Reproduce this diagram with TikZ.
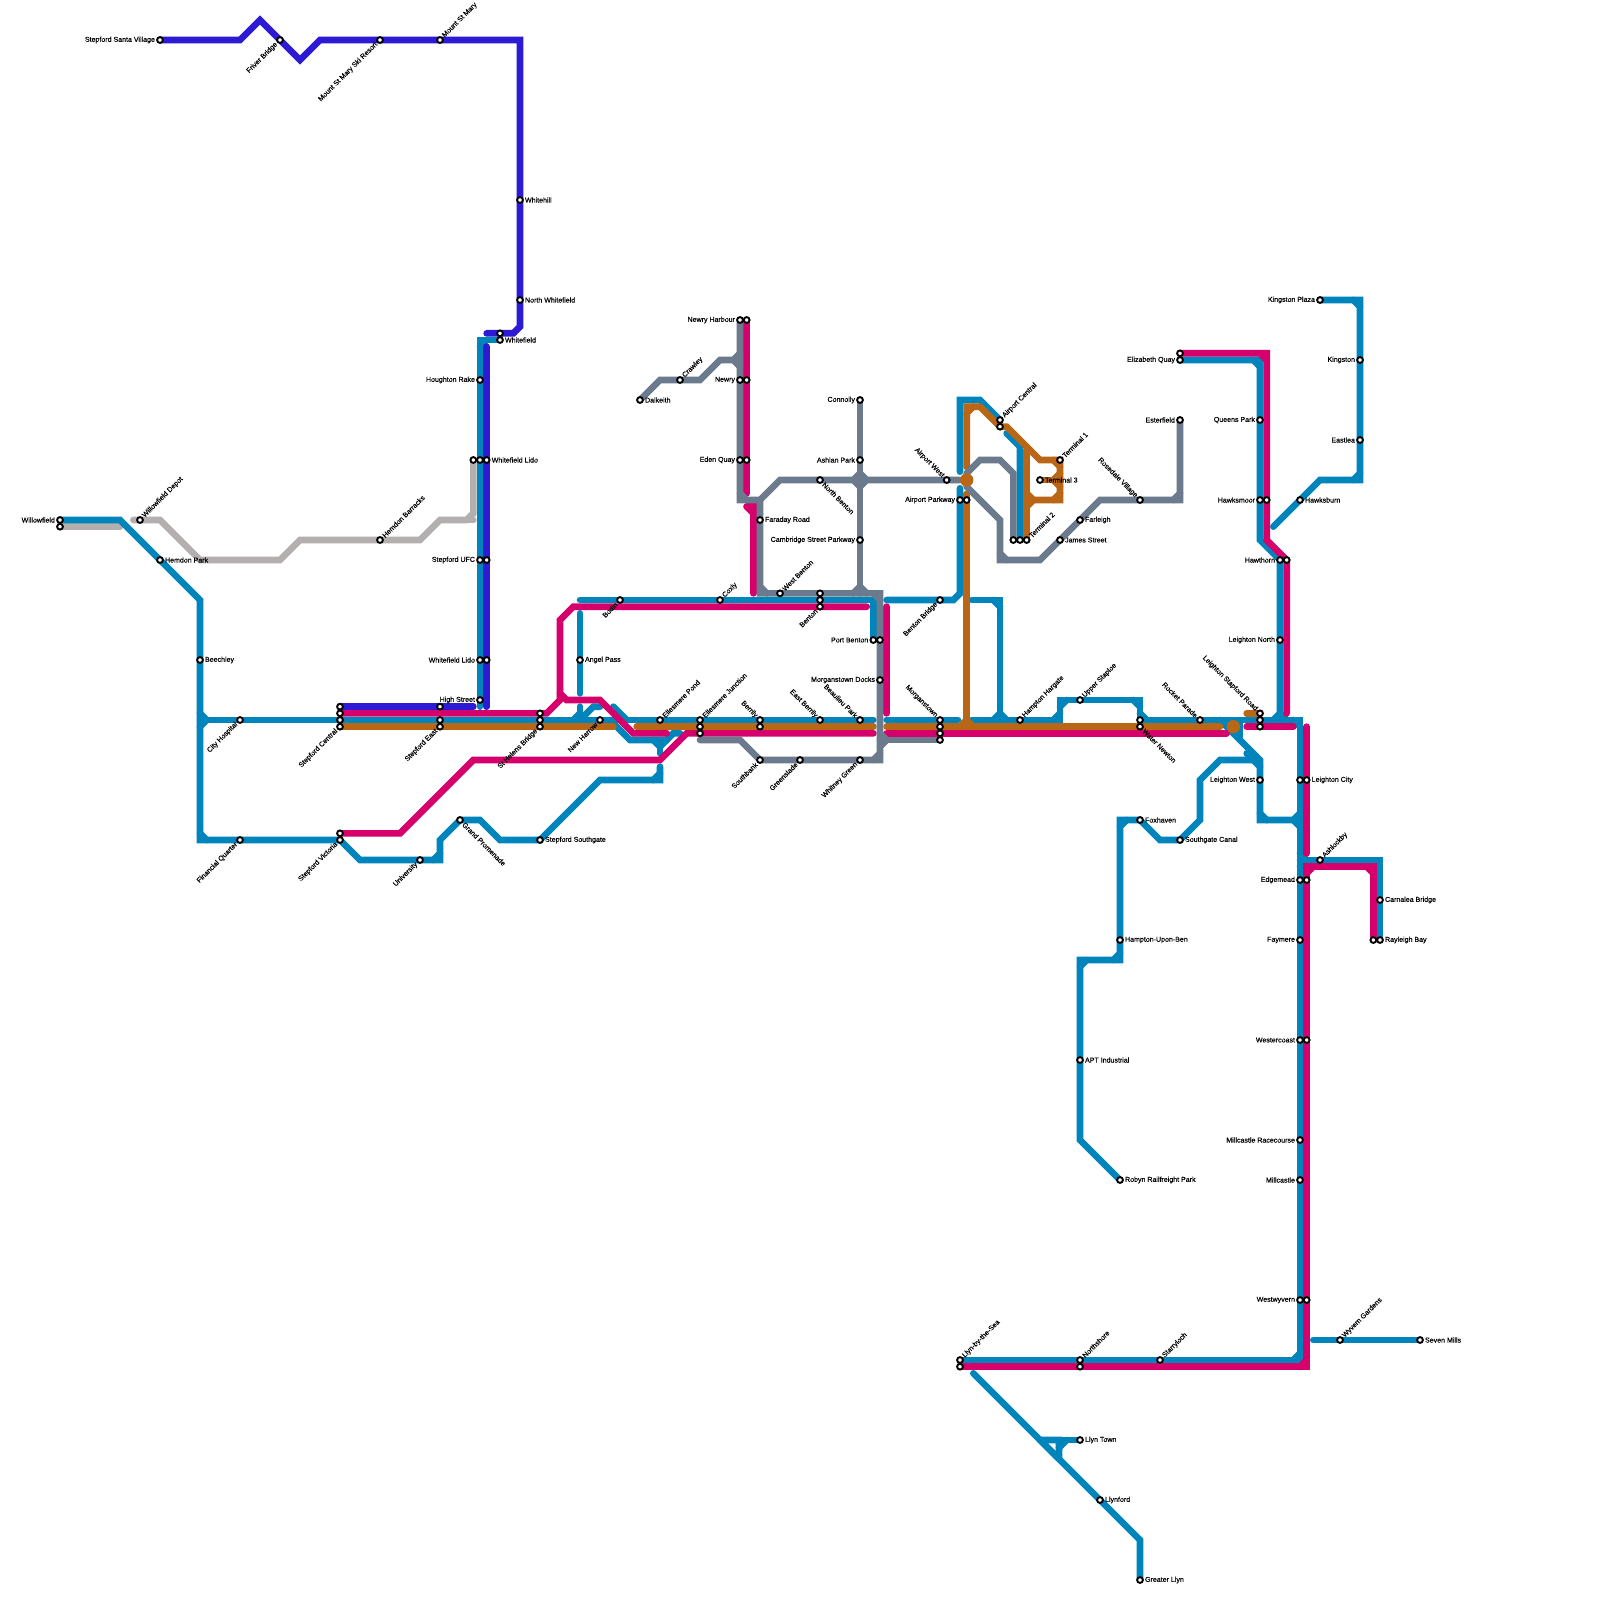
\documentclass[tikz,border=0pt]{standalone}
\usepackage{fontspec}
\setmainfont{Liberation Sans}
\newfontfamily\mapfont[FakeBold=0.25]{Liberation Sans}
\usetikzlibrary{backgrounds}
\definecolor{mapblue}{RGB}{0,132,188}
\definecolor{mapmagenta}{RGB}{214,0,108}
\definecolor{mapbrown}{RGB}{185,102,22}
\definecolor{mappurple}{RGB}{45,26,213}
\definecolor{mapgray}{RGB}{108,122,142}
\definecolor{mapsilver}{RGB}{179,175,175}
\begin{document}
\begin{tikzpicture}[x=1pt, y=-1pt,
  stn/.style={circle, draw=black, fill=white, line width=1.9pt, minimum size=5.8pt, inner sep=0pt},
  lbl/.style={font=\mapfont\fontsize{7.05}{8}\selectfont, inner sep=1pt, text=black},
  lE/.style={label={[lbl, anchor=west]0:#1}},
  lW/.style={label={[lbl, anchor=east]180:#1}},
  lNE/.style={label={[lbl, rotate=45, anchor=west]45:#1}},
  lSW/.style={label={[lbl, rotate=45, anchor=east]225:#1}},
  lNW/.style={label={[lbl, rotate=-45, anchor=east]135:#1}},
  lSE/.style={label={[lbl, rotate=-45, anchor=west]315:#1}},
  route/.style={line width=6.67pt, line cap=round, line join=miter, miter limit=2},
  blueln/.style={route, mapblue},
  magln/.style={route, mapmagenta},
  brownln/.style={route, mapbrown},
  purpln/.style={route, mappurple},
  grayln/.style={route, mapgray},
  silvln/.style={route, mapsilver},
  hub/.style={circle, fill=mapbrown, minimum size=13.4pt, inner sep=0pt}
]
\useasboundingbox (0,0) rectangle (1600,1600);
% west side
\node[stn, lW=Stepford Santa Village] (santa) at (160,40) {};
\node[stn, lSW=Friver Bridge] (friver) at (280,40) {};
\node[stn, lSW=Mount St Mary Ski Resort] (ski) at (380,40) {};
\node[stn, lNE=Mount St Mary] (mary) at (440,40) {};
\node[stn, lE=Whitehill] (whitehill) at (520,200) {};
\node[stn, lE=North Whitefield] (nwhite) at (520,300) {};
\node[stn] (white1) at (500,333.33) {};
\node[stn, lE=Whitefield] (white2) at (500,340) {};
\node[stn, lW=Houghton Rake] (houghton) at (480,380) {};
\node[stn] (lidoa) at (473.33,460) {};
\node[stn] (lidob) at (480,460) {};
\node[stn, lE=Whitefield Lido] (lidoc) at (486.67,460) {};
\node[stn, lW=Stepford UFC] (ufca) at (480,560) {};
\node[stn] (ufcb) at (486.67,560) {};
\node[stn, lW=Whitefield Lido] (lidod) at (480,660) {};
\node[stn] (lidoe) at (486.67,660) {};
\node[stn, lW=High Street] (high) at (480,700) {};
\node[stn, lW=Willowfield] (willa) at (60,520) {};
\node[stn] (willb) at (60,526.67) {};
\node[stn, lNE=Willowfield Depot] (depot) at (140,520) {};
\node[stn, lE=Hemdon Park] (hemdon) at (160,560) {};
\node[stn, lNE=Hemdon Barracks] (barracks) at (380,540) {};
\node[stn, lE=Beechley] (beechley) at (200,660) {};
\node[stn, lSW=City Hospital] (hospital) at (240,720) {};
\node[stn, lSW=Financial Quarter] (finance) at (240,840) {};
\node[stn] (centa) at (340,706.67) {};
\node[stn] (centb) at (340,713.33) {};
\node[stn] (centc) at (340,720) {};
\node[stn, lSW=Stepford Central] (centd) at (340,726.67) {};
\node[stn] (easta) at (440,706.67) {};
\node[stn] (eastb) at (440,720) {};
\node[stn, lSW=Stepford East] (eastc) at (440,726.67) {};
\node[stn] (helena) at (540,713.33) {};
\node[stn] (helenb) at (540,720) {};
\node[stn, lSW=St Helens Bridge] (helenc) at (540,726.67) {};
\node[stn] (victa) at (340,833.33) {};
\node[stn, lSW=Stepford Victoria] (victb) at (340,840) {};
\node[stn, lSW=University] (univ) at (420,860) {};
\node[stn, lSE=Grand Promenade] (grand) at (460,820) {};
\node[stn, lE=Stepford Southgate] (sgate) at (540,840) {};
\node[stn, lSW=New Harrow] (harrow) at (600,720) {};
\node[stn, lE=Angel Pass] (angel) at (580,660) {};
\node[stn, lSW=Bodin] (bodin) at (620,600) {};
\node[stn, lNE=Coxly] (coxly) at (720,600) {};
\node[stn, lNE=Ellesmere Pond] (pond) at (660,720) {};
\node[stn, lNE=Ellesmere Junction] (junca) at (700,720) {};
\node[stn] (juncb) at (700,726.67) {};
\node[stn] (juncc) at (700,733.33) {};
% centre
\node[stn, lNW=Berrily] (berra) at (760,720) {};
\node[stn] (berrb) at (760,726.67) {};
\node[stn, lNW=East Berrily] (eberr) at (820,720) {};
\node[stn, lNW=Beaulieu Park] (beau) at (860,720) {};
\node[stn, lSW=Southbank] (south) at (760,760) {};
\node[stn, lSW=Greenslade] (green) at (800,760) {};
\node[stn, lSW=Whitney Green] (whitney) at (860,760) {};
\node[stn, lNW=Morganstown] (morga) at (940,720) {};
\node[stn] (morgb) at (940,726.67) {};
\node[stn] (morgc) at (940,733.33) {};
\node[stn] (morgd) at (940,740) {};
\node[stn, lW=Newry Harbour] (nharba) at (740,320) {};
\node[stn] (nharbb) at (746.67,320) {};
\node[stn, lW=Newry] (newrya) at (740,380) {};
\node[stn] (newryb) at (746.67,380) {};
\node[stn, lW=Eden Quay] (edena) at (740,460) {};
\node[stn] (edenb) at (746.67,460) {};
\node[stn, lNE=Crawley] (crawley) at (680,380) {};
\node[stn, lE=Dalkeith] (dalkeith) at (640,400) {};
\node[stn, lE=Faraday Road] (faraday) at (760,520) {};
\node[stn, lNE=West Benton] (wbenton) at (780,593.33) {};
\node[stn] (bentona) at (820,593.33) {};
\node[stn] (bentonb) at (820,600) {};
\node[stn, lSW=Benton] (bentonc) at (820,606.67) {};
\node[stn, lW=Port Benton] (porta) at (873.33,640) {};
\node[stn] (portb) at (880,640) {};
\node[stn, lW=Morganstown Docks] (docks) at (880,680) {};
\node[stn, lSW=Benton Bridge] (bbridge) at (940,600) {};
\node[stn, lW=Connolly] (connolly) at (860,400) {};
\node[stn, lW=Ashlan Park] (ashlan) at (860,460) {};
\node[stn, lSE=North Benton] (nbenton) at (820,480) {};
\node[stn, lW=Cambridge Street Parkway] (cambridge) at (860,540) {};
% airport
\node[stn, lNW=Airport West] (awest) at (946.67,480) {};
\node[stn, lW=Airport Parkway] (apka) at (960,500) {};
\node[stn] (apkb) at (966.67,500) {};
\node[stn, lNE=Airport Central] (acena) at (1000,420) {};
\node[stn] (acenb) at (1000,426.67) {};
\node[stn, lNE=Terminal 1] (term1) at (1060,460) {};
\node[stn, lE=Terminal 3] (term3) at (1040,480) {};
\node[stn] (term2a) at (1013.33,540) {};
\node[stn] (term2b) at (1020,540) {};
\node[stn, lNE=Terminal 2] (term2c) at (1026.67,540) {};
\node[stn, lE=Farleigh] (farleigh) at (1080,520) {};
\node[stn, lE=James Street] (james) at (1060,540) {};
\node[stn, lNW=Rosedale Village] (rosedale) at (1140,500) {};
\node[stn, lW=Esterfield] (esterfield) at (1180,420) {};
% east side
\node[stn, lNE=Hampton Hargate] (hargate) at (1020,720) {};
\node[stn, lNE=Upper Staploe] (staploe) at (1080,700) {};
\node[stn] (newtona) at (1140,720) {};
\node[stn, lSE=Water Newton] (newtonb) at (1140,726.67) {};
\node[stn, lNW=Rocket Parade] (rocket) at (1200,720) {};
\node[stn, lNW=Leighton Stapford Road] (stapa) at (1260,713.33) {};
\node[stn] (stapb) at (1260,720) {};
\node[stn] (stapc) at (1260,726.67) {};
\node[stn, lW=Leighton West] (lwest) at (1260,780) {};
\node[stn] (lcitya) at (1300,780) {};
\node[stn, lE=Leighton City] (lcityb) at (1306.67,780) {};
\node[stn, lE=Foxhaven] (foxhaven) at (1140,820) {};
\node[stn, lE=Southgate Canal] (canal) at (1180,840) {};
\node[stn, lNE=Ashlockby] (ashlock) at (1320,860) {};
\node[stn, lW=Edgemead] (edgea) at (1300,880) {};
\node[stn] (edgeb) at (1306.67,880) {};
\node[stn, lE=Carnalea Bridge] (carnalea) at (1380,900) {};
\node[stn] (rayla) at (1373.33,940) {};
\node[stn, lE=Rayleigh Bay] (raylb) at (1380,940) {};
\node[stn, lW=Faymere] (faymere) at (1300,940) {};
\node[stn, lW=Westercoast] (westa) at (1300,1040) {};
\node[stn] (westb) at (1306.67,1040) {};
\node[stn, lW=Millcastle Racecourse] (race) at (1300,1140) {};
\node[stn, lW=Millcastle] (mill) at (1300,1180) {};
\node[stn, lW=Westwyvern] (wyva) at (1300,1300) {};
\node[stn] (wyvb) at (1306.67,1300) {};
\node[stn, lNE=Wyvern Gardens] (wyvern) at (1340,1340) {};
\node[stn, lE=Seven Mills] (seven) at (1420,1340) {};
\node[stn, lNE=Starryloch] (starry) at (1160,1360) {};
\node[stn, lNE=Northshore] (northa) at (1080,1360) {};
\node[stn] (northb) at (1080,1366.67) {};
\node[stn, lNE=Llyn-by-the-Sea] (llyna) at (960,1360) {};
\node[stn] (llynb) at (960,1366.67) {};
\node[stn, lE=Llyn Town] (llynt) at (1080,1440) {};
\node[stn, lE=Llynford] (llynford) at (1100,1500) {};
\node[stn, lE=Greater Llyn] (greater) at (1140,1580) {};
\node[stn, lE=Robyn Railfreight Park] (robyn) at (1120,1180) {};
\node[stn, lE=APT Industrial] (apt) at (1080,1060) {};
\node[stn, lE=Hampton-Upon-Ben] (ben) at (1120,940) {};
\node[stn, lW=Hawthorn] (hawta) at (1280,560) {};
\node[stn] (hawtb) at (1286.67,560) {};
\node[stn, lW=Leighton North] (lnorth) at (1280,640) {};
\node[stn, lE=Hawksburn] (hawksb) at (1300,500) {};
\node[stn, lW=Hawksmoor] (hawkma) at (1260,500) {};
\node[stn] (hawkmb) at (1266.67,500) {};
\node[stn, lW=Queens Park] (queens) at (1260,420) {};
\node[stn] (elia) at (1180,353.33) {};
\node[stn, lW=Elizabeth Quay] (elib) at (1180,360) {};
\node[stn, lW=Kingston Plaza] (kplaza) at (1320,300) {};
\node[stn, lW=Kingston] (kingston) at (1360,360) {};
\node[stn, lW=Eastlea] (eastlea) at (1360,440) {};
\begin{pgfonlayer}{background}
\fill[white] (0,0) rectangle (1600,1600);
% silver line
\draw[silvln] (willb.center) -- (120,526.67);
\draw[silvln] (133.33,520) -- (depot.center) -- (160,520) -- (200,560) -- (280,560) -- (300,540) -- (barracks.center) -- (420,540) -- (440,520) -- (466.67,520) -- (473.33,513.33) -- (lidoa.center);
\draw[silvln] (466.67,520) -- (473.33,520);
% blue lines
\draw[blueln] (willa.center) -- (120,520) -- (200,600) -- (200,840) -- (victb.center) -- (360,860) -- (440,860) -- (440,840) -- (grand.center) -- (480,820) -- (500,840) -- (sgate.center) -- (600,780) -- (660,780) -- (660,766.67);
\draw[blueln] (200,720) -- (873.33,720);
\draw[blueln] (white2.center) -- (480,340) -- (480,706.67);
\draw[blueln] (580,613.33) -- (580,693.33);
\draw[blueln] (580,706.67) -- (580,720);
\draw[blueln] (573.33,720) -- (580,713.33) -- (586.67,720);
\draw[blueln] (580,720) -- (593.33,706.67) -- (600,706.67);
\draw[blueln] (613.33,706.67) -- (626.67,720);
\draw[blueln] (610,720) -- (630,740) -- (666.67,740) -- (673.33,733.33) -- (680,733.33);
\draw[blueln] (653.33,740) -- (660,746.67) -- (666.67,740);
\draw[blueln] (660,740) -- (660,753.33);
\draw[blueln] (580,600) -- (873.33,600) -- (porta.center);
\draw[blueln] (886.67,600) -- (953.33,600) -- (960,593.33) -- (960,488.33);
\draw[blueln] (960,471.67) -- (960,400) -- (980,400) -- (acena.center);
\draw[blueln] (1006.67,433.33) -- (1020,446.67) -- (term2b.center);
\draw[blueln] (971.67,600) -- (1000,600) -- (1000,720);
\draw[blueln] (886.67,720) -- (958,720);
\draw[blueln] (971.67,720) -- (1060,720) -- (1060,700) -- (1140,700) -- (newtona.center) -- (1300,720) -- (1300,1360) -- (llyna.center);
\draw[blueln] (1220,720) -- (1260,760) -- (1260,820) -- (1300,820);
\draw[blueln] (1240,720) -- (1240,737);
\draw[blueln] (1253.33,760) -- (1220,760) -- (1200,780) -- (1200,820) -- (canal.center) -- (1160,840) -- (foxhaven.center) -- (1120,820) -- (1120,960) -- (1080,960) -- (1080,1140) -- (robyn.center);
\draw[blueln] (elib.center) -- (1260,360) -- (1260,540) -- (1280,560) -- (1280,720);
\draw[blueln] (kplaza.center) -- (1360,300) -- (1360,480) -- (1320,480) -- (1273.33,526.67);
\draw[blueln] (1300,860) -- (1380,860) -- (raylb.center);
\draw[blueln] (1313.33,1340) -- (seven.center);
\draw[blueln] (973.33,1373.33) -- (1140,1540) -- (greater.center);
\draw[blueln] (1040,1440) -- (llynt.center);
\draw[blueln] (1040,1440) -- (1059,1440) -- (1059,1459) -- cycle;
\foreach \ax/\ay/\bx/\by in {1353.33/300/1360/306.67, 1353.33/480/1360/473.33, 1126.67/820/1120/826.67, 1113.33/960/1120/953.33, 1086.67/960/1080/966.67, 1066.67/700/1060/706.67, 1133.33/700/1140/706.67, 1053.33/720/1060/713.33, 1146.67/720/1140/713.33, 1266.67/820/1260/813.33, 1293.33/820/1300/813.33, 1293.33/820/1300/826.67, 1293.33/720/1300/726.67, 1293.33/1360/1300/1353.33, 1306.67/860/1300/853.33, 1306.67/860/1300/866.67, 993.33/600/1000/606.67, 206.67/840/200/833.33, 206.67/720/200/713.33, 206.67/720/200/726.67, 486.67/340/480/346.67, 1253.33/360/1260/366.67, 433.33/860/440/853.33, 653.33/780/660/773.33, 993.33/720/1000/713.33, 1006.67/720/1000/713.33, 1273.33/720/1280/713.33, 1286.67/720/1280/713.33, 1253.33/760/1246.67/753.33, 1253.33/760/1260/766.67, 1066.67/1440/1059/1447.67}
  \draw[blueln] (\ax,\ay) -- (\bx,\by);
% brown line
\draw[brownln] (centd.center) -- (613.33,726.67);
\draw[brownln] (636.67,726.67) -- (873.33,726.67);
\draw[brownln] (886.67,726.67) -- (1220,726.67);
\draw[brownln] (1246.67,713.33) -- (stapa.center);
\draw[brownln] (966.67,726.67) -- (966.67,494);
\draw[brownln] (966.67,467) -- (966.67,406.67) -- (980,406.67) -- (1000,426.67) -- (1006.67,426.67) -- (1040,460) -- (term1.center) -- (1060,500) -- (1026.67,500);
\draw[brownln] (1026.67,450) -- (term2c.center);
\draw[brownln] (term3.center) -- (1060,480);
\foreach \ax/\ay/\bx/\by in {960/726.67/966.67/720, 973.33/726.67/966.67/720, 973.33/406.67/966.67/413.33, 1053.33/460/1060/466.67, 1053.33/500/1060/493.33, 1053.33/480/1060/473.33, 1053.33/480/1060/486.67, 1033.33/500/1026.67/493.33, 1033.33/500/1026.67/506.67}
  \draw[brownln] (\ax,\ay) -- (\bx,\by);
% purple line
\draw[purpln] (santa.center) -- (240,40) -- (260,20) -- (300,60) -- (320,40) -- (520,40) -- (520,326.67) -- (513.33,333.33) -- (486.67,333.33);
\draw[purpln] (486.67,346.67) -- (486.67,706.67);
\draw[purpln] (centa.center) -- (473.33,706.67);
% magenta lines
\draw[magln] (centb.center) -- (546.67,713.33) -- (560,700) -- (560,620) -- (573.33,606.67) -- (866.67,606.67);
\draw[magln] (560,693.33) -- (566.67,700) -- (600,700) -- (633.33,733.33) -- (666.67,733.33);
\draw[magln] (victa.center) -- (400,833.33) -- (473.33,760) -- (660,760) -- (686.67,733.33) -- (873.33,733.33);
\draw[magln] (886.67,733.33) -- (1226.67,733.33);
\draw[magln] (1246.67,726.67) -- (1293.33,726.67);
\draw[magln] (886.67,606.67) -- (886.67,713.33);
\draw[magln] (nharbb.center) -- (746.67,493.33);
\draw[magln] (746.67,506.67) -- (753.33,506.67) -- (753.33,593.33);
\draw[magln] (746.67,506.67) -- (753.33,513.33);
\draw[magln] (elia.center) -- (1266.67,353.33) -- (1266.67,540) -- (1286.67,560) -- (1286.67,713.33);
\draw[magln] (1306.67,726.67) -- (1306.67,853.33);
\draw[magln] (llynb.center) -- (1306.67,1366.67) -- (1306.67,866.67) -- (1373.33,866.67) -- (rayla.center);
\foreach \ax/\ay/\bx/\by in {1260/353.33/1266.67/360, 1366.67/866.67/1373.33/873.33, 1313.33/866.67/1306.67/873.33, 1300/1366.67/1306.67/1360}
  \draw[magln] (\ax,\ay) -- (\bx,\by);
% gray lines
\draw[grayln] (dalkeith.center) -- (660,380) -- (700,380) -- (720,360) -- (733.33,360);
\draw[grayln] (nharba.center) -- (740,500) -- (760,500) -- (780,480) -- (awest.center) -- (960,480);
\draw[grayln] (760,500) -- (760,593.33) -- (880,593.33) -- (880,760) -- (760,760) -- (740,740) -- (700,740);
\draw[grayln] (connolly.center) -- (860,593.33);
\draw[grayln] (880,740) -- (morgd.center);
\draw[grayln] (966.67,473.33) -- (980,460) -- (1000,460) -- (1013.33,473.33) -- (term2a.center);
\draw[grayln] (966.67,486.67) -- (1000,520) -- (1000,560) -- (1040,560) -- (1100,500) -- (1180,500) -- (esterfield.center);
\draw[grayln] (853.33,480) -- (860,473.33) -- (866.67,480) -- (860,486.67) -- cycle;
\foreach \ax/\ay/\bx/\by in {733.33/360/740/353.33, 733.33/360/740/366.67, 746.67/500/740/493.33, 766.67/593.33/760/586.67, 853.33/593.33/860/586.67, 866.67/593.33/860/586.67, 873.33/593.33/880/600, 886.67/740/880/733.33, 886.67/740/880/746.67, 873.33/760/880/753.33, 1006.67/560/1000/553.33, 1173.33/500/1180/493.33}
  \draw[grayln] (\ax,\ay) -- (\bx,\by);
\end{pgfonlayer}
\node[hub] (hubair) at (966.67,480) {};
\node[hub] (hubleigh) at (1233.33,726.67) {};
\end{tikzpicture}
\end{document}
